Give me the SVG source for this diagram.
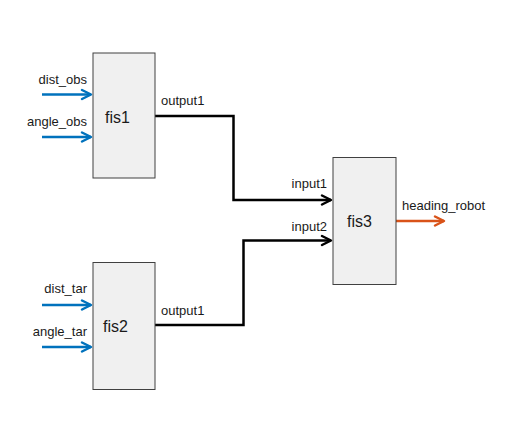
<svg xmlns="http://www.w3.org/2000/svg" width="517" height="440" viewBox="0 0 517 440">
<style>
.box{fill:#f0f0f0;stroke:#404040;stroke-width:1}
.t{font-family:"Liberation Sans",Arial,sans-serif;font-size:13px;fill:#1a1a1a}
.n{font-family:"Liberation Sans",Arial,sans-serif;font-size:16px;fill:#1a1a1a}
.in{stroke:#0072bd;stroke-width:2.5;fill:none}
.inh{stroke:#0072bd;stroke-width:2.5;fill:none;stroke-linecap:round;stroke-linejoin:round}
.w{stroke:#000;stroke-width:2.5;fill:none}
.out{stroke:#d95319;stroke-width:2.5;fill:none}
</style>
<rect width="517" height="440" fill="#fff"/>
<g id="connectors">
  <g id="in-dist_obs"><path class="in" d="M42 94.5H91"/><path class="inh" d="M82 90L91 94.5L82 99"/></g>
  <g id="in-angle_obs"><path class="in" d="M42 137H91"/><path class="inh" d="M82 132.5L91 137L82 141.5"/></g>
  <g id="in-dist_tar"><path class="in" d="M42 305H91"/><path class="inh" d="M82 300.5L91 305L82 309.5"/></g>
  <g id="in-angle_tar"><path class="in" d="M42 347H91"/><path class="inh" d="M82 342.5L91 347L82 351.5"/></g>
  <g id="fis1-fis3"><path class="w" d="M155 116H233.5V200H331"/><path class="w" stroke-linejoin="round" stroke-linecap="round" d="M322 195.5L331 200L322 204.5"/></g>
  <g id="fis2-fis3"><path class="w" d="M155 325H243.5V240.5H331"/><path class="w" stroke-linejoin="round" stroke-linecap="round" d="M322 236L331 240.5L322 245"/></g>
  <g id="out-heading"><path class="out" d="M396 221H444"/><path class="out" stroke-linejoin="round" stroke-linecap="round" d="M435 216.5L444 221L435 225.5"/></g>
</g>
<g id="labels">
  <text class="t" x="87" y="84" text-anchor="end">dist_obs</text>
  <text class="t" x="87" y="126" text-anchor="end">angle_obs</text>
  <text class="t" x="87" y="293" text-anchor="end">dist_tar</text>
  <text class="t" x="87" y="336" text-anchor="end">angle_tar</text>
  <text class="t" x="161" y="105">output1</text>
  <text class="t" x="161" y="315">output1</text>
  <text class="t" x="327" y="188" text-anchor="end">input1</text>
  <text class="t" x="327" y="231" text-anchor="end">input2</text>
  <text class="t" x="402" y="210">heading_robot</text>
</g>
<g id="fis1"><rect class="box" x="93" y="53" width="62" height="125"/><text class="n" x="105" y="123">fis1</text></g>
<g id="fis2"><rect class="box" x="93" y="262.5" width="62" height="127"/><text class="n" x="103" y="332">fis2</text></g>
<g id="fis3"><rect class="box" x="333" y="157.5" width="63" height="127"/><text class="n" x="347" y="227">fis3</text></g>
</svg>
